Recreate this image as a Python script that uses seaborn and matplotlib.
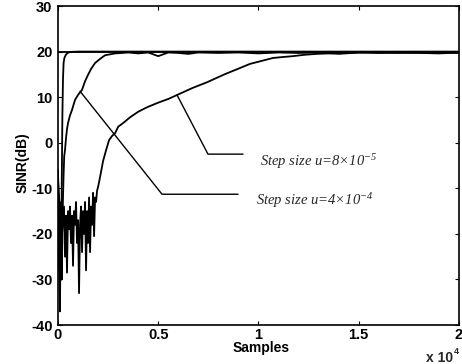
import numpy as np
import pandas as pd
import matplotlib
matplotlib.use("Agg")
import matplotlib.pyplot as plt
import seaborn as sns

# reference (optimal) SINR level
opt_samples = [0, 20000]
opt_sinr = [20, 20]

# fastest curve (unlabelled)
fast_samples = [0, 50, 100, 130, 160, 190, 220, 250, 280, 320, 380, 450, 550, 700, 1000, 5000, 10000, 15000, 20000]
fast_sinr = [-10, -24, -37, -18, -30, -8, 6, 14, 17.5, 18.6, 19.2, 19.6, 19.85, 19.95, 20, 20, 20, 20, 20]

# step size u = 4e-4
mid_samples = [0, 40, 70, 100, 130, 160, 190, 220, 250, 280, 310, 350, 400, 450, 500, 600, 700, 850,
               1000, 1200, 1350, 1500, 1650, 1850, 2100, 2350, 2600, 2850, 3200, 3500, 4000, 4500,
               5000, 5500, 6000, 6500, 7000, 8000, 9000, 10000, 11000, 12000, 13000, 14000, 15000,
               16000, 17000, 18000, 19000, 20000]
mid_sinr = [-6, -14, -28, -16, -22, -13, -30, -18, -12, -7, -3, -1.6, 1, 3, 4.3, 6, 7.2, 9.4,
            10.5, 11.6, 13.5, 14.9, 16.2, 17.5, 18.4, 19.2, 19.4, 19.6, 19.7, 19.8, 19.6, 19.8,
            19.0, 19.8, 19.7, 19.5, 19.8, 19.7, 19.8, 19.6, 19.8, 19.7, 19.8, 19.5, 19.8,
            19.7, 19.8, 19.7, 19.6, 19.8]

# step size u = 8e-5
slow_samples = [0, 100, 200, 300, 350, 400, 450, 500, 550, 600, 650, 700, 750, 800, 850, 900, 950,
                1000, 1050, 1100, 1150, 1200, 1250, 1300, 1350, 1400, 1450, 1500, 1550, 1600, 1650,
                1700, 1750, 1800, 1850, 1900, 1950, 2000, 2100, 2250, 2400, 2550, 2700, 2850, 3000,
                3300, 3600, 4000, 4450, 5000, 5500, 5950, 6700, 7450, 8300, 9080, 9575, 10200,
                10720, 11200, 11720, 12300, 12920, 14060, 15500, 17000, 18500, 20000]
slow_sinr = [-8, -15, -20, -14, -25, -16, -28.5, -15, -19, -14, -22, -16, -27, -15, -18, -13, -22,
             -17, -33, -18, -14, -24, -15, -20, -13, -28, -15, -22, -12, -24, -14,
             -18, -11, -20.5, -12, -13, -10.5, -9.7, -7.5, -4, -1.6, 0.6, 1.5, 2.1, 3.5,
             4.5, 5.6, 6.8, 7.8, 8.8, 9.6, 10.5, 12, 13.3, 15, 16.4, 17.3, 18.0,
             18.6, 18.8, 19.0, 19.3, 19.5, 19.7, 19.8, 19.7, 19.8, 19.7]

sns.set_style("ticks")
plt.rcParams['font.family'] = ['Liberation Sans', 'DejaVu Sans']
plt.rcParams['axes.unicode_minus'] = False
plt.rcParams['mathtext.fontset'] = 'custom'
plt.rcParams['mathtext.rm'] = 'Liberation Serif:italic'
plt.rcParams['mathtext.it'] = 'Liberation Serif:italic'

fig = plt.figure(figsize=(4.62, 3.64), dpi=100)
ax = fig.add_axes([0.1255, 0.107, 0.868, 0.8765])

for xs, ys in [(opt_samples, opt_sinr), (slow_samples, slow_sinr),
               (mid_samples, mid_sinr), (fast_samples, fast_sinr)]:
    df = pd.DataFrame({'samples': xs, 'sinr': ys})
    sns.lineplot(data=df, x='samples', y='sinr', color='black', linewidth=1.3,
                 estimator=None, ax=ax)

ax.set_xlim(0, 20000)
ax.set_ylim(-40, 30)
ax.set_xticks([0, 5000, 10000, 15000, 20000])
ax.set_xticklabels(['0', '0.5', '1', '1.5', '2'])
ax.set_yticks(range(-40, 31, 10))
ax.tick_params(direction='in', top=True, right=True, length=3, width=0.8,
               labelsize=10.5, colors='black')
ax.tick_params(axis='x', pad=2)
ax.tick_params(axis='y', pad=4)
for lab in ax.get_xticklabels() + ax.get_yticklabels():
    lab.set_fontweight('bold')
for sp in ax.spines.values():
    sp.set_visible(True)
    sp.set_color('black')
    sp.set_linewidth(1.2)

ax.set_xlabel('Samples', fontsize=10, fontweight='bold', color='black')
ax.set_ylabel('SINR(dB)', fontsize=10, fontweight='bold', color='black')
ax.xaxis.set_label_coords(0.506, -0.05)
ax.yaxis.set_label_coords(-0.07, 0.51)
ax.text(0.985, -0.103, 'x 10', transform=ax.transAxes, ha='right', va='center',
        fontsize=10, fontweight='bold')
ax.text(0.986, -0.083, '4', transform=ax.transAxes, ha='left', va='center',
        fontsize=6.5, fontweight='bold')

# leader lines and labels
lead1_x = [5935, 7480, 9230]
lead1_y = [10.5, -2.5, -2.5]
lead2_x = [1100, 5190, 8980]
lead2_y = [11.3, -11.3, -11.3]
ax.plot(lead1_x, lead1_y, color='black', linewidth=1.0)
ax.plot(lead2_x, lead2_y, color='black', linewidth=1.0)
ax.text(10070, -4.2, r'Step size u=8$\times$10$^{-5}$', family='Liberation Serif',
        style='italic', fontsize=10.5, va='center', ha='left')
ax.text(9870, -12.6, r'Step size u=4$\times$10$^{-4}$', family='Liberation Serif',
        style='italic', fontsize=10.5, va='center', ha='left')

fig.savefig('out.png', dpi=100)
